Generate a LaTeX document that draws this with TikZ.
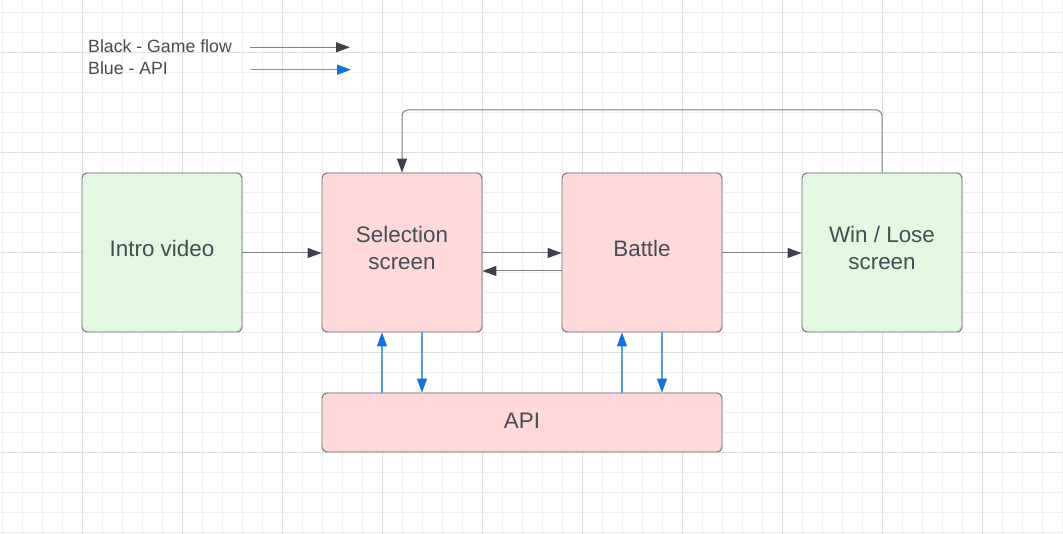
\documentclass[tikz,border=0pt]{standalone}
\usepackage{fontspec}
\setmainfont{Liberation Sans}
\usetikzlibrary{arrows.meta}
\definecolor{gminor}{HTML}{EFEFEF}
\definecolor{gmajor}{HTML}{DEDEDE}
\definecolor{boxgreen}{HTML}{E2F8E0}
\definecolor{boxpink}{HTML}{FFD9D9}
\definecolor{boxline}{HTML}{6A6A6A}
\definecolor{txt}{HTML}{474C54}
\definecolor{flowline}{HTML}{7E8187}
\definecolor{flowhead}{HTML}{3A414A}
\definecolor{apiline}{HTML}{5A9BE6}
\definecolor{apihead}{HTML}{1071E5}
\tikzset{
  box/.style={draw=boxline, line width=0.9pt, rounded corners=5pt, text=txt,
    align=center, inner sep=0pt, font=\fontsize{22.4}{26.6}\selectfont},
  flow/.style={draw=flowline, line width=1pt, -{Triangle[length=14pt,width=10pt,color=flowhead]}},
  apiarrow/.style={draw=apiline, line width=1.3pt, -{Triangle[length=14pt,width=10pt,color=apihead]}},
  legendtxt/.style={text=txt, anchor=base west, inner sep=0pt, font=\fontsize{17.7}{20}\selectfont}
}
\begin{document}
\begin{tikzpicture}[x=1pt,y=-1pt]
\useasboundingbox (0,0) rectangle (1063,534);
\fill[white] (0,0) rectangle (1063,534);
% grid
\foreach \gx in {2,22,...,1062} {\draw[gminor, line width=0.8pt] (\gx,0) -- (\gx,534);}
\foreach \gy in {12,32,...,532} {\draw[gminor, line width=0.8pt] (0,\gy) -- (1063,\gy);}
\foreach \gx in {82,182,...,982} {\draw[gmajor, line width=0.9pt] (\gx,0) -- (\gx,534);}
\foreach \gy in {52,152,...,452} {\draw[gmajor, line width=0.9pt] (0,\gy) -- (1063,\gy);}
% legend
\node[legendtxt] (lg1) at (88,52.5) {Black - Game flow};
\node[legendtxt] (lg2) at (88,75) {Blue - API};
\coordinate (l1a) at (250,47.3);
\coordinate (l1b) at (350,47.3);
\coordinate (l2a) at (251,69.7);
\coordinate (l2b) at (351,69.7);
\draw[flow] (l1a) -- (l1b);
\draw[apiarrow] (l2a) -- (l2b);
% boxes
\node[box, fill=boxgreen, minimum width=160pt, minimum height=159pt, text depth=7.6pt] (intro) at (162,252.5) {Intro video};
\node[box, fill=boxpink, minimum width=160pt, minimum height=159pt, text depth=9pt] (sel) at (402,252.5) {Selection\\screen};
\node[box, fill=boxpink, minimum width=160pt, minimum height=159pt, text depth=7.6pt] (bat) at (642,252.5) {Battle};
\node[box, fill=boxgreen, minimum width=160pt, minimum height=159pt, text depth=9pt] (win) at (882,252.5) {Win / Lose\\screen};
\node[box, fill=boxpink, minimum width=400pt, minimum height=59pt, text depth=4pt] (api) at (522,422.5) {API};
% flow arrows
\draw[flow] (intro.east |- 0,253) -- (sel.west |- 0,253);
\draw[flow] (sel.east |- 0,253) -- (bat.west |- 0,253);
\draw[flow] (bat.west |- 0,271) -- (sel.east |- 0,271);
\draw[flow] (bat.east |- 0,253) -- (win.west |- 0,253);
\draw[flow, rounded corners=6pt] (win.north) -- (882,110) -- (402,110) -- (sel.north);
% api arrows
\draw[apiarrow] (api.north -| 382,0) -- (sel.south -| 382,0);
\draw[apiarrow] (sel.south -| 422,0) -- (api.north -| 422,0);
\draw[apiarrow] (api.north -| 622,0) -- (bat.south -| 622,0);
\draw[apiarrow] (bat.south -| 662,0) -- (api.north -| 662,0);
\end{tikzpicture}
\end{document}
